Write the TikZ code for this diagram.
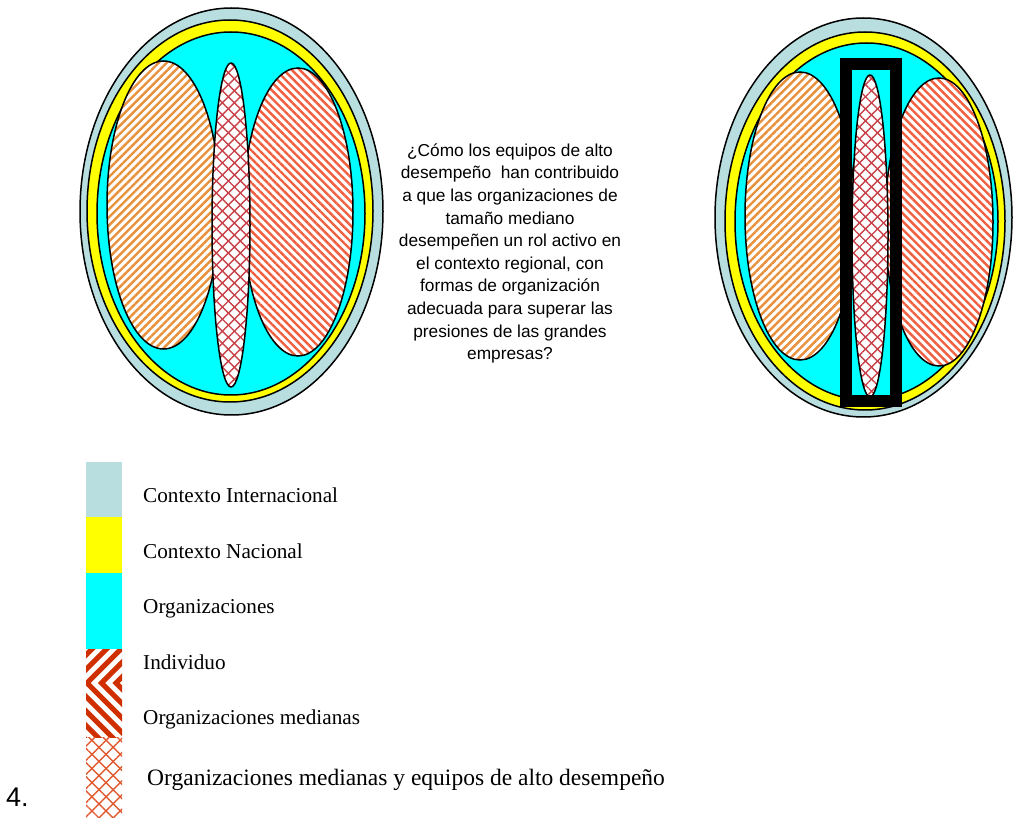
\documentclass[tikz,border=0pt]{standalone}
\usepackage{fontspec}
\setmainfont{Liberation Serif}
\newfontfamily\arialf{Liberation Sans}
\usetikzlibrary{patterns.meta}
\definecolor{ctxint}{HTML}{B8DEE0}
\definecolor{ctxnac}{HTML}{FFFF00}
\definecolor{orgs}{HTML}{00FFFF}
\definecolor{hatchL}{HTML}{E8903A}
\definecolor{hatchR}{HTML}{F06040}
\definecolor{crossC}{HTML}{C84048}
\definecolor{zigC}{HTML}{D03000}
\definecolor{legCross}{HTML}{E05A30}
\tikzset{
  outline/.style={draw=black, line width=1.5pt},
  intband/.style={outline, fill=ctxint},
  nacband/.style={outline, fill=ctxnac},
  orgband/.style={outline, fill=orgs},
  leftorg/.style={outline, preaction={fill=white},
    preaction={pattern={Lines[angle=45,distance=5.7pt,line width=2.4pt]}, pattern color=hatchL}},
  rightorg/.style={outline, preaction={fill=white},
    preaction={pattern={Lines[angle=-45,distance=5.7pt,line width=2.4pt]}, pattern color=hatchR}},
  indiv/.style={outline, preaction={fill=white},
    preaction={pattern={Lines[angle=45,distance=8.5pt,line width=1.4pt]}, pattern color=crossC},
    preaction={pattern={Lines[angle=-45,distance=8.5pt,line width=1.4pt]}, pattern color=crossC}},
  legtext/.style={anchor=base west, inner sep=0pt, font=\fontsize{21.2}{24}\selectfont},
}
\begin{document}
\begin{tikzpicture}[x=1pt, y=-1pt]
\useasboundingbox (0,0) rectangle (1013,818);
% ---------- left figure ----------
\draw[intband] (231.5,211.5) ellipse [x radius=151.5pt, y radius=203.5pt];
\draw[nacband] (230,211) ellipse [x radius=143pt, y radius=191pt];
\draw[orgband] (231,213.5) ellipse [x radius=134pt, y radius=181.5pt];
\draw[leftorg] (163.5,205) ellipse [x radius=56.5pt, y radius=144pt];
\draw[rightorg] (298,212) ellipse [x radius=55pt, y radius=144pt];
\draw[indiv] (231,225) ellipse [x radius=19pt, y radius=162pt];
% ---------- right figure ----------
\draw[intband] (863.5,217.5) ellipse [x radius=148.5pt, y radius=199.5pt];
\draw[nacband] (865,221) ellipse [x radius=140pt, y radius=189pt];
\draw[orgband] (866.5,221.5) ellipse [x radius=131.5pt, y radius=178.5pt];
\draw[leftorg] (800,216) ellipse [x radius=55pt, y radius=144pt];
\draw[rightorg] (939,222) ellipse [x radius=54pt, y radius=144pt];
\draw[indiv] (870,236) ellipse [x radius=18pt, y radius=161pt];
\draw[line width=12pt] (846,64) rectangle (896,401);
% ---------- question ----------
\node[align=center, inner sep=0pt, font=\arialf\fontsize{17.3}{22.6}\selectfont] (q) at (510,253.5)
 {¿Cómo los equipos de alto\\ desempeño~ han contribuido\\ a que las organizaciones de\\ tamaño mediano\\ desempeñen un rol activo en\\ el contexto regional, con\\ formas de organización\\ adecuada para superar las\\ presiones de las grandes\\ empresas?};
% ---------- legend ----------
\fill[ctxint] (86,462) rectangle (122,517);
\fill[ctxnac] (86,517) rectangle (122,573);
\fill[orgs] (86,573) rectangle (122,649);
\begin{scope}
  \clip (86,649) rectangle (122,737);
  \foreach \k in {-8,...,3}
    \draw[zigC, line width=5pt] ({87+14.5*\k+80},603) -- ({87+14.5*\k},683) -- ({87+14.5*\k+80},763);
\end{scope}
\path[pattern={Lines[angle=45,distance=10pt,line width=1.4pt]}, pattern color=legCross] (86,737) rectangle (122,818);
\path[pattern={Lines[angle=-45,distance=10pt,line width=1.4pt]}, pattern color=legCross] (86,737) rectangle (122,818);
\node[legtext] (l1) at (143,503) {Contexto Internacional};
\node[legtext] (l2) at (143,558) {Contexto Nacional};
\node[legtext] (l3) at (143,613) {Organizaciones};
\node[legtext] (l4) at (143,669) {Individuo};
\node[legtext] (l5) at (143,724) {Organizaciones medianas};
\node[legtext, font=\fontsize{23.5}{26}\selectfont] (l6) at (147,785) {Organizaciones medianas y equipos de alto desempeño};
\node[anchor=base west, inner sep=0pt, font=\arialf\fontsize{27}{30}\selectfont] (num) at (6,806) {4.};
\end{tikzpicture}
\end{document}
